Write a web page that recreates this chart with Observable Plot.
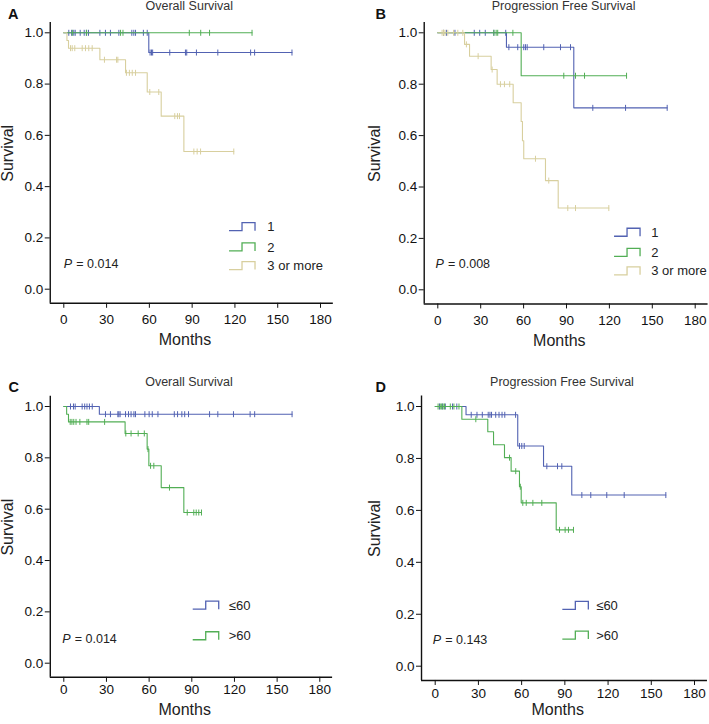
<!DOCTYPE html>
<html><head><meta charset="utf-8">
<script src="https://cdn.jsdelivr.net/npm/d3@7"></script>
<script src="https://cdn.jsdelivr.net/npm/@observablehq/plot@0.6"></script>
<style>
html,body{margin:0;padding:0;background:#fff;}
#root{position:relative;width:709px;height:724px;overflow:hidden;font-family:"Liberation Sans",Arial,sans-serif;}
.panel{position:absolute;}
</style></head><body><div id="root"></div>
<script>
// ---- tick labels ----
const monthTicks = [0, 30, 60, 90, 120, 150, 180];
const survivalTicks = [0, 0.2, 0.4, 0.6, 0.8, 1.0];
const blue = "#5262b2", green = "#52ae55", yellow = "#d8cf9e";

// ---- Panel A: Overall Survival by number (1, 2, 3 or more) ----
const A1_eventT = [59.6];
const A1_eventS = [0.923];
const A1_censor = [3.5, 5.5, 7, 8, 11.5, 14.3, 15.8, 17.3, 25.3, 29.2, 32.7, 38.6, 47.7, 49.1, 50.3, 55.8, 58.5,
  60.5, 61.5, 62.3, 74.3, 85.3, 86.2, 93, 108, 131, 133.8, 160];
const A2_eventT = [];
const A2_eventS = [];
const A2_censor = [6, 16, 39.8, 41.5, 88, 96, 102.2, 132];
const A3_eventT = [2.2, 3.3, 25.3, 43.3, 58.5, 68.3, 84.2];
const A3_eventS = [0.97, 0.94, 0.895, 0.844, 0.769, 0.675, 0.537];
const A3_censor = [4.7, 5.9, 7.7, 12.9, 15.2, 17.5, 19.9, 28.5, 37, 37.9, 43.9, 46, 48, 50.3, 60.3, 66.6,
  77.8, 79.7, 81.1, 91.2, 93.5, 95.9, 119.2];

// ---- Panel B: Progression Free Survival by number ----
const B1_eventT = [48.0, 95.1];
const B1_eventS = [0.944, 0.708];
const B1_censor = [4, 6, 12, 25.5, 29.3, 33.2, 39.2, 47.5, 49.7, 55.9, 60.1, 61.3, 62.5, 74.1, 85.8, 92.8,
  108.4, 131.3, 160.4];
const B2_eventT = [58.3];
const B2_eventS = [0.833];
const B2_censor = [39.2, 40.8, 41.9, 52.5, 88.1, 96.3, 102.6, 132];
const B3_eventT = [18.7, 22.2, 37.3, 41.5, 52.7, 58.3, 59.2, 60.1, 75.3, 84.2];
const B3_eventS = [0.955, 0.909, 0.857, 0.80, 0.728, 0.655, 0.58, 0.51, 0.425, 0.318];
const B3_censor = [3, 4, 5, 7, 11, 14, 17.5, 20, 28.2, 38, 43.8, 46.6, 50.3, 68.3, 77.6, 90.9, 96.3, 119.6];

// ---- Panel C: Overall Survival by age ----
const C1_eventT = [25];
const C1_eventS = [0.970];
const C1_censor = [4.7, 6.8, 8, 12.9, 14.7, 16.3, 18, 20, 29.3, 32.8, 38, 38.7, 39.6, 43.4, 45.5, 47.3, 49.3,
  50.4, 57, 60, 62.2, 66.2, 77.7, 80, 83, 85, 87.7, 102.5, 108.3, 119.3, 131, 134.2, 160.5];
const C2_eventT = [2, 3.3, 43.1, 58.6, 59.8, 68.5, 84.4];
const C2_eventS = [0.97, 0.94, 0.895, 0.834, 0.769, 0.684, 0.587];
const C2_censor = [4.5, 5.7, 7, 8.6, 11.3, 16.3, 17.5, 28.7, 43.6, 47.3, 52.3, 56.6, 59.2, 61, 63.3, 74.3,
  86.8, 91.4, 93.1, 94.9, 96.8];

// ---- Panel D: Progression Free Survival by age ----
const D1_eventT = [21.4, 57.3, 75.2, 94.8];
const D1_eventS = [0.968, 0.848, 0.770, 0.659];
const D1_censor = [3, 5, 7, 12, 15, 25, 29, 32.7, 36.8, 38, 39.1, 42, 44.3, 46.4, 48.3, 55.8, 58.5, 60.1, 61.8,
  77.5, 84.9, 87.9, 101.8, 108, 119.1, 131.2, 160.1];
const D2_eventT = [18.5, 36.5, 40.5, 48.1, 52.7, 58.5, 59.7, 84];
const D2_eventS = [0.951, 0.903, 0.853, 0.803, 0.751, 0.691, 0.629, 0.525];
const D2_censor = [2, 3.5, 4.5, 5.5, 6.5, 10.5, 13, 16.5, 28.2, 51.6, 55.9, 59.1, 60.8, 63.2, 67.8, 74,
  86.3, 90.2, 92.5, 96];

const groupLabels = ["1", "2", "3 or more"];
const ageLabels = ["\u226460", ">60"];
const pValues = ["0.014", "0.008", "0.014", "0.143"];
const titles = ["Overall Survival", "Progression Free Survival", "Overall Survival", "Progression Free Survival"];
const letters = ["A", "B", "C", "D"];

const FONT = '"Liberation Sans", Arial, sans-serif';
const vtick = { draw(ctx, size) { const h = Math.sqrt(size / Math.PI); ctx.moveTo(0, -h); ctx.lineTo(0, h); } };

function levelAt(eT, eS, t) { let s = 1; for (let i = 0; i < eT.length; i++) if (eT[i] <= t) s = eS[i]; return s; }

const panels = [
  { left: 0, top: 0, W: 354, H: 362, x0: 63.3, x180: 320, y1: 32.3, y0: 288.7, xPad: 6,
    letterPos: [12.8, 13.7], titleY: 5, survX: 7, monthsY: 339.5, pX: 0, pY: 0.099,
    legend: { iconX: 116.2, labelX: 142.7, rows: [0.242, 0.163, 0.09] },
    series: [
      { label: groupLabels[0], color: blue, eT: A1_eventT, eS: A1_eventS, c: A1_censor },
      { label: groupLabels[1], color: green, eT: A2_eventT, eS: A2_eventS, c: A2_censor },
      { label: groupLabels[2], color: yellow, eT: A3_eventT, eS: A3_eventS, c: A3_censor }] },
  { left: 354, top: 0, W: 355, H: 362, x0: 83.3, x180: 340.7, y1: 32.3, y0: 289.3, xPad: 6,
    letterPos: [26.2, 13.7], titleY: 5, survX: 20.3, monthsY: 340, pX: -1.6, pY: 0.101,
    legend: { iconX: 123.6, labelX: 149.2, rows: [0.222, 0.144, 0.072] },
    series: [
      { label: groupLabels[0], color: blue, eT: B1_eventT, eS: B1_eventS, c: B1_censor },
      { label: groupLabels[1], color: green, eT: B2_eventT, eS: B2_eventS, c: B2_censor },
      { label: groupLabels[2], color: yellow, eT: B3_eventT, eS: B3_eventS, c: B3_censor }] },
  { left: 0, top: 362, W: 354, H: 362, x0: 63.3, x180: 319.3, y1: 44, y0: 300.7, xPad: 2,
    letterPos: [13.3, 25], titleY: 19.7, survX: 7, monthsY: 347.5, pX: -1.1, pY: 0.093,
    legend: { iconX: 91, labelX: 116, rows: [0.224, 0.105] },
    series: [
      { label: ageLabels[0], color: blue, eT: C1_eventT, eS: C1_eventS, c: C1_censor },
      { label: ageLabels[1], color: green, eT: C2_eventT, eS: C2_eventS, c: C2_censor }] },
  { left: 354, top: 362, W: 355, H: 362, x0: 80.7, x180: 340, y1: 44, y0: 303.7, xPad: 2.5,
    letterPos: [26.2, 25.3], titleY: 19.7, survX: 20, monthsY: 347.5, pX: -1.7, pY: 0.102,
    legend: { iconX: 88.6, labelX: 111.8, rows: [0.232, 0.118] },
    series: [
      { label: ageLabels[0], color: blue, eT: D1_eventT, eS: D1_eventS, c: D1_censor },
      { label: ageLabels[1], color: green, eT: D2_eventT, eS: D2_eventS, c: D2_censor }] }
];

const root = document.getElementById("root");
panels.forEach((cfg, pi) => {
  const xd = [-9.5, 189], yd = [-0.055, 1.04];
  const kx = (cfg.x180 - cfg.x0) / 180, ky = cfg.y0 - cfg.y1;
  const mL = cfg.x0 + xd[0] * kx, mR = cfg.W - (cfg.x0 + xd[1] * kx);
  const mT = cfg.y1 - (yd[1] - 1) * ky, mB = cfg.H - (cfg.y0 - yd[0] * ky);
  const marks = [];
  marks.push(Plot.ruleX([xd[0]], { stroke: "#111", strokeWidth: 1.4 }));
  marks.push(Plot.ruleY([yd[0]], { stroke: "#111", strokeWidth: 1.4 }));
  cfg.series.forEach(s => {
    const end = Math.max(...s.c, ...s.eT);
    const pts = [{ t: 0, s: 1 }, ...s.eT.map((t, i) => ({ t, s: s.eS[i] })), { t: end, s: levelAt(s.eT, s.eS, end) }];
    marks.push(Plot.line(pts, { x: "t", y: "s", curve: "step-after", stroke: s.color, strokeWidth: 1.1 }));
    const cens = s.c.map(t => ({ t, s: levelAt(s.eT, s.eS, t) }));
    marks.push(Plot.dot(cens, { x: "t", y: "s", symbol: vtick, r: 3, stroke: s.color, fill: "none", strokeWidth: 1 }));
  });
  marks.push(Plot.text(cfg.series.map((s, i) => ({ x: cfg.legend.labelX, y: cfg.legend.rows[i], label: s.label })),
    { x: "x", y: "y", text: "label", textAnchor: "start", lineAnchor: "middle", fontSize: 13, fill: "#222" }));
  marks.push(Plot.text([{ x: cfg.pX, y: cfg.pY }], { x: "x", y: "y", text: () => "P", fontStyle: "italic",
    textAnchor: "start", lineAnchor: "middle", fontSize: 12.5, fill: "#222" }));
  marks.push(Plot.text([{ x: cfg.pX, y: cfg.pY }], { x: "x", y: "y", text: () => "= " + pValues[pi], dx: 12.5,
    textAnchor: "start", lineAnchor: "middle", fontSize: 12.5, fill: "#222" }));
  marks.push(Plot.text([{ x: 88, y: yd[1] }], { x: "x", y: "y", text: () => titles[pi], dy: cfg.titleY - mT,
    textAnchor: "middle", lineAnchor: "middle", fontSize: 12.5, fill: "#333" }));
  marks.push(Plot.text([{ x: xd[0], y: yd[1] }], { x: "x", y: "y", text: () => letters[pi],
    dx: cfg.letterPos[0] - mL, dy: cfg.letterPos[1] - mT, textAnchor: "middle", lineAnchor: "middle",
    fontSize: 14.5, fontWeight: "bold", fill: "#111" }));
  marks.push(Plot.text([{ x: xd[0], y: 0.53 }], { x: "x", y: "y", text: () => "Survival", dx: cfg.survX - mL,
    rotate: -90, textAnchor: "middle", lineAnchor: "middle", fontSize: 16, fill: "#222" }));
  marks.push(Plot.text([{ x: 85, y: yd[0] }], { x: "x", y: "y", text: () => "Months", dy: cfg.monthsY - (cfg.H - mB),
    textAnchor: "middle", lineAnchor: "middle", fontSize: 16, fill: "#222" }));

  const chart = Plot.plot({
    width: cfg.W, height: cfg.H,
    marginLeft: mL, marginRight: mR, marginTop: mT, marginBottom: mB,
    x: { domain: xd, ticks: monthTicks, tickSize: 5, tickPadding: cfg.xPad, label: null },
    y: { domain: yd, ticks: survivalTicks, tickSize: 5, tickPadding: 2, tickFormat: d3.format(".1f"), label: null },
    style: { fontFamily: FONT, fontSize: "13.5px", color: "#111", background: "transparent", overflow: "visible" },
    marks
  });
  const sx = chart.scale("x"), sy = chart.scale("y");
  const g = d3.select(chart).append("g").attr("fill", "none");
  cfg.series.forEach((s, i) => {
    const px = sx.apply(cfg.legend.iconX), py = sy.apply(cfg.legend.rows[i]);
    g.append("path").attr("d", `M${px},${py + 4}H${px + 13}V${py - 4}H${px + 26}V${py + 4}`)
      .attr("stroke", s.color).attr("stroke-width", 1.3);
  });
  const div = document.createElement("div");
  div.className = "panel";
  div.style.left = cfg.left + "px"; div.style.top = cfg.top + "px";
  div.style.width = cfg.W + "px"; div.style.height = cfg.H + "px";
  div.appendChild(chart);
  root.appendChild(div);
});
</script></body></html>
